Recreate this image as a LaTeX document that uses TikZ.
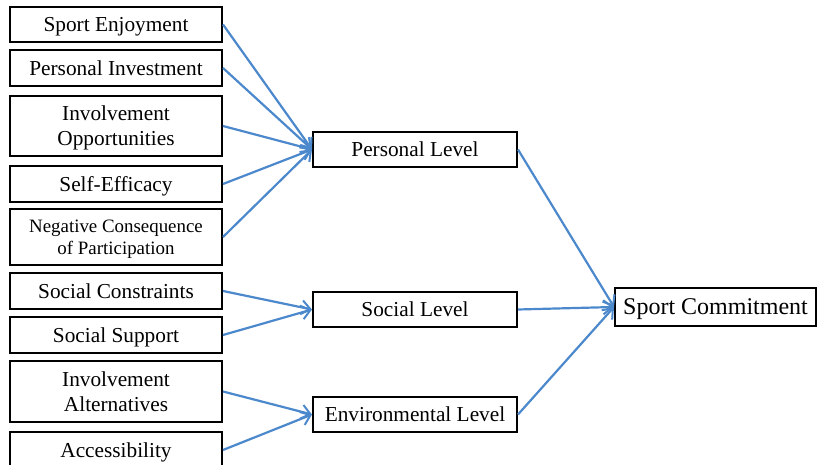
\documentclass[tikz,border=0pt]{standalone}
\usepackage{fontspec}
\setmainfont{Liberation Serif}
\usetikzlibrary{arrows.meta}
\definecolor{arrowblue}{RGB}{76,136,204}
\tikzset{
  box/.style={draw=black, line width=2pt, inner sep=0pt, align=center, text depth=0pt,
    font=\fontsize{21.3}{25}\selectfont},
  leftbox/.style={box, minimum width=212pt},
  levelbox/.style={box, minimum width=204pt, minimum height=35pt},
  link/.style={draw=arrowblue, line width=2.2pt,
    -{Straight Barb[length=9pt,width=14pt,line width=2pt]}},
}
\begin{document}
\begin{tikzpicture}[x=1pt,y=-1pt]
\useasboundingbox (0,0) rectangle (820,465);
% left boxes
\node[leftbox, minimum height=35pt] (se)  at (116,24.5) {Sport Enjoyment};
\node[leftbox, minimum height=36pt] (pi)  at (116,68)   {Personal Investment};
\node[leftbox, minimum height=60pt] (io)  at (116,126)  {Involvement\\Opportunities};
\node[leftbox, minimum height=36pt] (sef) at (116,184)  {Self-Efficacy};
\node[leftbox, minimum height=56pt, font=\fontsize{18.9}{22}\selectfont] (nc) at (116,237) {Negative Consequence\\of Participation};
\node[leftbox, minimum height=36pt] (sc)  at (116,291)  {Social Constraints};
\node[leftbox, minimum height=36pt] (ss)  at (116,335)  {Social Support};
\node[leftbox, minimum height=61pt] (ia)  at (116,391.5){Involvement\\Alternatives};
\node[leftbox, minimum height=36pt] (ac)  at (116,450)  {Accessibility};
% level boxes
\node[levelbox] (pl) at (415,149.5) {Personal Level};
\node[levelbox] (sl) at (415,309.5) {Social Level};
\node[levelbox] (el) at (415,414.5) {Environmental Level};
% outcome
\node[box, minimum width=201pt, minimum height=38pt, font=\fontsize{24}{28}\selectfont] (cm) at (715.5,307) {Sport Commitment};
% connectors
\foreach \s in {se,pi,io,sef,nc} \draw[link] (\s.east) -- (pl.west);
\foreach \s in {sc,ss} \draw[link] (\s.east) -- (sl.west);
\foreach \s in {ia,ac} \draw[link] (\s.east) -- (el.west);
\foreach \s in {pl,sl,el} \draw[link] (\s.east) -- (cm.west);
\end{tikzpicture}
\end{document}
